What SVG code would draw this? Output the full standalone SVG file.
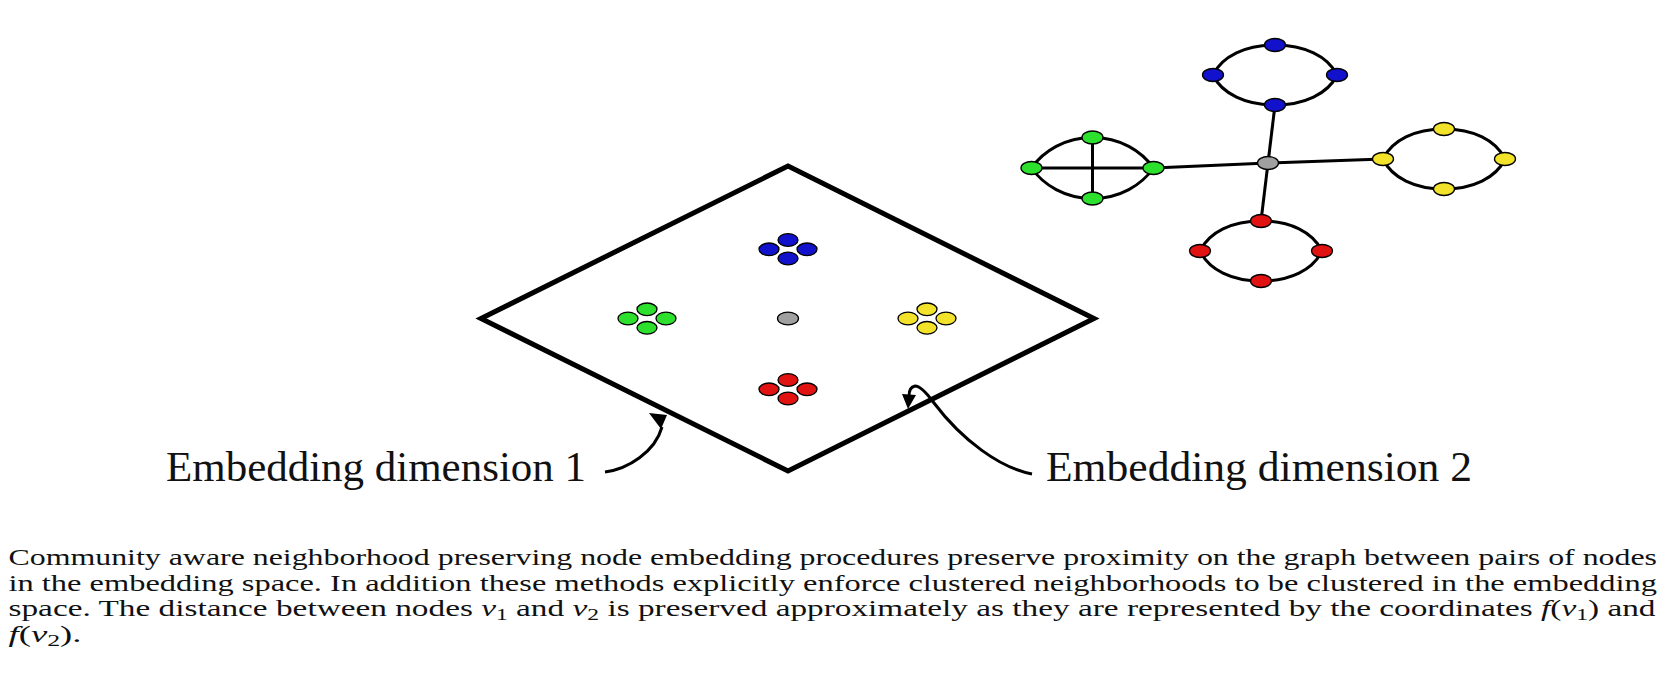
<svg xmlns="http://www.w3.org/2000/svg" width="1675" height="685" viewBox="0 0 1675 685">
<defs>
<style>
.ring{fill:none;stroke:#000;stroke-width:3}
.edge{stroke:#000;stroke-width:3;fill:none}
.n{stroke:#000;stroke-width:1.3}
.b{fill:#1212cc}
.g{fill:#2ee02e}
.y{fill:#f2e22a}
.r{fill:#e01212}
.k{fill:#a0a0a0}
.lbl{font-family:"Liberation Serif","Times New Roman",serif;font-size:43px;fill:#111}
.cap{font-family:"Liberation Serif","Times New Roman",serif;font-size:24px;fill:#111}
.mi{font-style:italic}
.arr{fill:none;stroke:#000;stroke-width:3}
</style>
</defs>
<rect width="1675" height="685" fill="#fff"/>

<g id="plane">
<polygon points="788,166 1094,318.5 788,471 481,318.5" fill="none" stroke="#000" stroke-width="5" stroke-linejoin="miter"/>
</g>

<g id="emb-blue">
<ellipse class="n b" cx="788" cy="240" rx="10" ry="6.3"/>
<ellipse class="n b" cx="788" cy="258.5" rx="10" ry="6.3"/>
<ellipse class="n b" cx="769" cy="249.3" rx="10" ry="6.3"/>
<ellipse class="n b" cx="807" cy="249.3" rx="10" ry="6.3"/>
</g>
<g id="emb-green">
<ellipse class="n g" cx="647" cy="309.3" rx="10" ry="6.3"/>
<ellipse class="n g" cx="647" cy="327.8" rx="10" ry="6.3"/>
<ellipse class="n g" cx="628" cy="318.5" rx="10" ry="6.3"/>
<ellipse class="n g" cx="666" cy="318.5" rx="10" ry="6.3"/>
</g>
<g id="emb-gray">
<ellipse class="n k" cx="788" cy="318.5" rx="10.5" ry="6.3"/>
</g>
<g id="emb-yellow">
<ellipse class="n y" cx="927" cy="309.3" rx="10" ry="6.3"/>
<ellipse class="n y" cx="927" cy="327.8" rx="10" ry="6.3"/>
<ellipse class="n y" cx="908" cy="318.5" rx="10" ry="6.3"/>
<ellipse class="n y" cx="946" cy="318.5" rx="10" ry="6.3"/>
</g>
<g id="emb-red">
<ellipse class="n r" cx="788" cy="380" rx="10" ry="6.3"/>
<ellipse class="n r" cx="788" cy="398.5" rx="10" ry="6.3"/>
<ellipse class="n r" cx="769" cy="389.3" rx="10" ry="6.3"/>
<ellipse class="n r" cx="807" cy="389.3" rx="10" ry="6.3"/>
</g>

<g id="connectors">
<line class="edge" x1="1268" y1="163" x2="1153.5" y2="168"/>
<line class="edge" x1="1268" y1="163" x2="1383" y2="159"/>
<line class="edge" x1="1268" y1="163" x2="1275" y2="105"/>
<line class="edge" x1="1268" y1="163" x2="1261" y2="221"/>
<path class="ring" d="M1213,75 C1222,56 1246,45 1275,45 C1304,45 1328,56 1337,75 C1328,94 1304,105 1275,105 C1246,105 1222,94 1213,75 Z"/>
<path class="ring" d="M1031.5,168 C1043.5,151 1065,137.5 1092.5,137.5 C1120,137.5 1141.5,151 1153.5,168 C1141.5,185 1120,198.5 1092.5,198.5 C1065,198.5 1043.5,185 1031.5,168 Z"/>
<line class="edge" x1="1031.5" y1="168" x2="1153.5" y2="168"/>
<line class="edge" x1="1092.5" y1="137.5" x2="1092.5" y2="198.5"/>
<path class="ring" d="M1383,159 C1392,140 1415,129 1444,129 C1473,129 1496,140 1505,159 C1496,178 1473,189 1444,189 C1415,189 1392,178 1383,159 Z"/>
<path class="ring" d="M1200,251 C1209,232 1232,221 1261,221 C1290,221 1313,232 1322,251 C1313,270 1290,281 1261,281 C1232,281 1209,270 1200,251 Z"/>
</g>

<g id="g-blue">
<ellipse class="n b" cx="1275" cy="45" rx="10.5" ry="6.5"/>
<ellipse class="n b" cx="1213" cy="75" rx="10.5" ry="6.5"/>
<ellipse class="n b" cx="1337" cy="75" rx="10.5" ry="6.5"/>
<ellipse class="n b" cx="1275" cy="105" rx="10.5" ry="6.5"/>
</g>
<g id="g-gray">
<ellipse class="n k" cx="1268" cy="163" rx="10.5" ry="6.5"/>
</g>
<g id="g-green">
<ellipse class="n g" cx="1031.5" cy="168" rx="10.5" ry="6.5"/>
<ellipse class="n g" cx="1092.5" cy="137.5" rx="10.5" ry="6.5"/>
<ellipse class="n g" cx="1153.5" cy="168" rx="10.5" ry="6.5"/>
<ellipse class="n g" cx="1092.5" cy="198.5" rx="10.5" ry="6.5"/>
</g>
<g id="g-yellow">
<ellipse class="n y" cx="1383" cy="159" rx="10.5" ry="6.5"/>
<ellipse class="n y" cx="1444" cy="129" rx="10.5" ry="6.5"/>
<ellipse class="n y" cx="1505" cy="159" rx="10.5" ry="6.5"/>
<ellipse class="n y" cx="1444" cy="189" rx="10.5" ry="6.5"/>
</g>
<g id="g-red">
<ellipse class="n r" cx="1261" cy="221" rx="10.5" ry="6.5"/>
<ellipse class="n r" cx="1200" cy="251" rx="10.5" ry="6.5"/>
<ellipse class="n r" cx="1322" cy="251" rx="10.5" ry="6.5"/>
<ellipse class="n r" cx="1261" cy="281" rx="10.5" ry="6.5"/>
</g>

<g id="label-arrows">
<path class="arr" d="M605,472 C628,469 655,452 662,427"/>
<polygon points="649,413 667,415 661,429" fill="#000"/>
<path class="arr" d="M1032,474 C1000,468 962,440 934,403 C926,392 920,386 915,386 C910,387 909,391 909,396"/>
<polygon points="902,394 916,395 908,409" fill="#000"/>
</g>

<g id="label1">
<text class="lbl" x="166" y="481" textLength="420" lengthAdjust="spacingAndGlyphs">Embedding dimension 1</text>
</g>
<g id="label2">
<text class="lbl" x="1046" y="481" textLength="426" lengthAdjust="spacingAndGlyphs">Embedding dimension 2</text>
</g>

<g id="caption">
<text class="cap" x="8.5" y="565" textLength="1648.5" lengthAdjust="spacingAndGlyphs">Community aware neighborhood preserving node embedding procedures preserve proximity on the graph between pairs of nodes</text>
<text class="cap" x="8.5" y="590.5" textLength="1648.5" lengthAdjust="spacingAndGlyphs">in the embedding space.  In addition these methods explicitly enforce clustered neighborhoods to be clustered in the embedding</text>
<text class="cap" x="8.5" y="616" textLength="1647" lengthAdjust="spacingAndGlyphs">space.  The distance between nodes <tspan class="mi">v</tspan><tspan font-size="17" dy="4">1</tspan><tspan dy="-4"> and </tspan><tspan class="mi">v</tspan><tspan font-size="17" dy="4">2</tspan><tspan dy="-4"> is preserved approximately as they are represented by the coordinates </tspan><tspan class="mi">f</tspan>(<tspan class="mi">v</tspan><tspan font-size="17" dy="4">1</tspan><tspan dy="-4">) and</tspan></text>
<text class="cap" x="8.5" y="641.5" textLength="73" lengthAdjust="spacingAndGlyphs"><tspan class="mi">f</tspan>(<tspan class="mi">v</tspan><tspan font-size="17" dy="4">2</tspan><tspan dy="-4">).</tspan></text>
</g>
</svg>
